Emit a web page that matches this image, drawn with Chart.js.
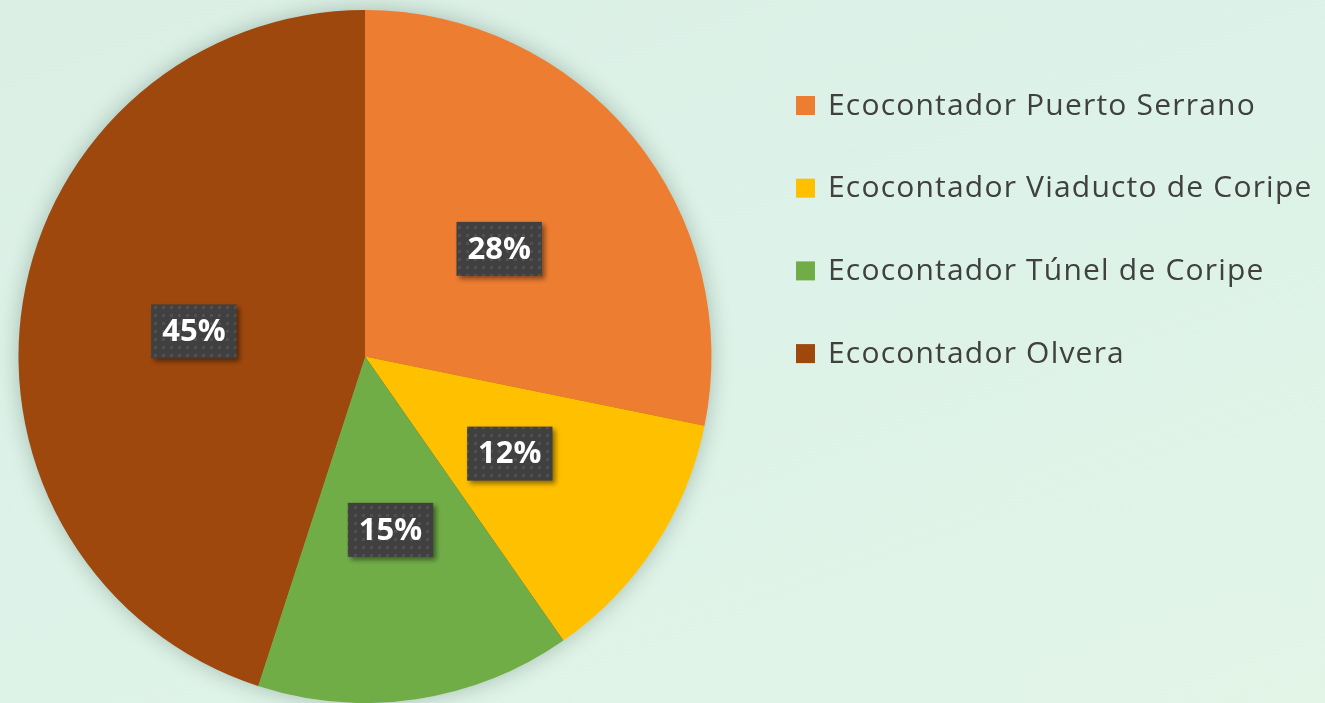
<!DOCTYPE html>
<html>
<head>
<meta charset="utf-8">
<script src="https://cdn.jsdelivr.net/npm/chart.js@4/dist/chart.umd.min.js"></script>
<style>
  html, body { margin: 0; padding: 0; }
  body {
    width: 1325px; height: 703px; overflow: hidden;
    background: linear-gradient(160deg, #dbefe5 0%, #ddf2e8 50%, #e2f5e7 100%);
  }
  #wrap { position: absolute; left: 0; top: 0; width: 1325px; height: 703px; }
</style>
</head>
<body>
<div id="wrap"><canvas id="chart"></canvas></div>
<script>
// Share of passes per counter (%)
const labels = [
  'Ecocontador Puerto Serrano',
  'Ecocontador Viaducto de Coripe',
  'Ecocontador Túnel de Coripe',
  'Ecocontador Olvera'
]
const shares = [28.2, 12.1, 14.7, 45.0]
const colors = ['#ED7D31', '#FFC000', '#70AD47', '#9E480E']

// dark boxes with percentages, placed at half radius on each slice's mid angle
const boxLabels = {
  id: 'boxLabels',
  afterDatasetsDraw(chart) {
    const ctx = chart.ctx
    const meta = chart.getDatasetMeta(0)
    const data = chart.data.datasets[0].data
    const total = data.reduce((a, b) => a + b, 0)

    // little dotted pattern like the office template
    const pat = document.createElement('canvas')
    pat.width = 8; pat.height = 8
    const pctx = pat.getContext('2d')
    pctx.fillStyle = '#404040'
    pctx.fillRect(0, 0, 8, 8)
    pctx.fillStyle = '#505050'
    pctx.fillRect(2, 2, 3, 3)
    const pattern = ctx.createPattern(pat, 'repeat')

    ctx.save()
    ctx.font = 'bold 31px "Open Sans"'
    ctx.textAlign = 'center'
    ctx.textBaseline = 'middle'
    meta.data.forEach((arc, i) => {
      const mid = (arc.startAngle + arc.endAngle) / 2
      const r = arc.outerRadius * 0.5
      const x = arc.x + Math.cos(mid) * r
      const y = arc.y + Math.sin(mid) * r + 2
      const text = Math.round(data[i] / total * 100) + '%'
      const w = ctx.measureText(text).width + 22
      const h = 54

      ctx.save()
      ctx.shadowColor = 'rgba(0,0,0,0.45)'
      ctx.shadowBlur = 5
      ctx.shadowOffsetX = 3
      ctx.shadowOffsetY = 3
      ctx.fillStyle = pattern
      ctx.fillRect(x - w / 2, y - h / 2, w, h)
      ctx.restore()

      ctx.fillStyle = '#ffffff'
      ctx.fillText(text, x, y + 1)
    })
    ctx.restore()
  }
}

// soft shadow behind the whole pie
const pieShadow = {
  id: 'pieShadow',
  beforeDatasetsDraw(chart) {
    const arc = chart.getDatasetMeta(0).data[0]
    if (!arc) return
    const ctx = chart.ctx
    ctx.save()
    ctx.shadowColor = 'rgba(0,40,20,0.28)'
    ctx.shadowBlur = 22
    ctx.fillStyle = '#9E480E'
    ctx.beginPath()
    ctx.arc(arc.x, arc.y, arc.outerRadius - 1, 0, Math.PI * 2)
    ctx.fill()
    ctx.restore()
  }
}

// legend on the right, drawn from the chart labels
const sideLegend = {
  id: 'sideLegend',
  afterDraw(chart) {
    const ctx = chart.ctx
    const left = 796
    const top = 105
    const step = 82.7
    ctx.save()
    ctx.font = '30px "Open Sans"'
    ctx.letterSpacing = '1.2px'
    ctx.textBaseline = 'middle'
    chart.data.labels.forEach((lab, i) => {
      const y = top + i * step
      ctx.fillStyle = chart.data.datasets[0].backgroundColor[i]
      ctx.fillRect(left, y - 9, 19, 19)
      ctx.fillStyle = '#404040'
      ctx.fillText(lab, left + 32, y + 1)
    })
    ctx.restore()
  }
}

new Chart(document.getElementById('chart'), {
  type: 'pie',
  data: {
    labels: labels,
    datasets: [{
      data: shares,
      backgroundColor: colors,
      borderWidth: 0
    }]
  },
  options: {
    responsive: true,
    maintainAspectRatio: false,
    animation: false,
    layout: {
      padding: { left: 18, top: 10, right: 613, bottom: 0 }
    },
    plugins: {
      legend: { display: false },
      tooltip: { enabled: false }
    }
  },
  plugins: [pieShadow, boxLabels, sideLegend]
})
</script>
</body>
</html>
